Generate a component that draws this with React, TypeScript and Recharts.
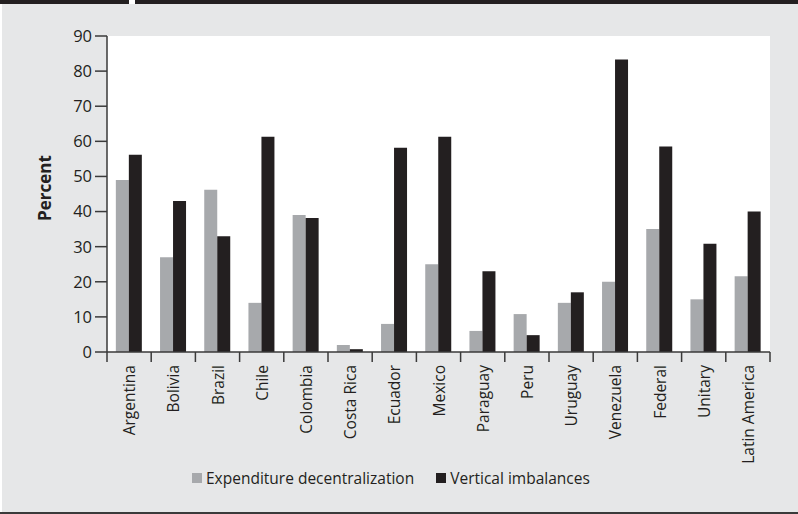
import React from "react";
import {
  BarChart,
  Bar,
  XAxis,
  YAxis,
  CartesianGrid,
  Legend,
} from "recharts";

// categories and the two series
const countries = [
  "Argentina",
  "Bolivia",
  "Brazil",
  "Chile",
  "Colombia",
  "Costa Rica",
  "Ecuador",
  "Mexico",
  "Paraguay",
  "Peru",
  "Uruguay",
  "Venezuela",
  "Federal",
  "Unitary",
  "Latin America",
];

const expenditure = [49, 27, 46.2, 14, 39, 2, 8, 25, 6, 10.8, 14, 20, 35, 15, 21.6];
const imbalances = [56.2, 43, 33, 61.3, 38.2, 0.8, 58.2, 61.3, 23, 4.8, 17, 83.3, 58.5, 30.8, 40];

const yTicks = [0, 10, 20, 30, 40, 50, 60, 70, 80, 90];

const SERIES_NAMES = {
  exp: "Expenditure decentralization",
  vert: "Vertical imbalances",
};

const GRAY = "#a7a9ac";
const BLACK = "#231f20";
const PANEL = "#e6e7e8";
const INK = "#231f20";
const FONT = "'Open Sans', 'DejaVu Sans', sans-serif";

const data = countries.map((name, i) => ({
  name,
  exp: expenditure[i],
  vert: imbalances[i],
}));

// category label rotated, plus tick marks on the band edges
const CountryTick = (props: any) => {
  const { x, y, payload, index, visibleTicksCount } = props;
  const half = payload.offset || 0;
  const last = index === visibleTicksCount - 1;
  return (
    <g>
      <line x1={x - half} x2={x - half} y1={y} y2={y + 10} stroke="#3a3a3a" strokeWidth={1.5} />
      {last && (
        <line x1={x + half} x2={x + half} y1={y} y2={y + 10} stroke="#3a3a3a" strokeWidth={1.5} />
      )}
      <text
        x={x}
        y={y + 13}
        transform={`rotate(-90, ${x}, ${y + 13})`}
        textAnchor="end"
        dominantBaseline="central"
        fill={INK}
        fontSize={15.5}
        fontFamily={FONT}
      >
        {payload.value}
      </text>
    </g>
  );
};

const PercentLabel = (props: any) => {
  const { viewBox } = props;
  const x = viewBox.x + 4;
  const y = viewBox.y + viewBox.height / 2 - 6;
  return (
    <text
      x={x}
      y={y}
      transform={`rotate(-90, ${x}, ${y})`}
      textAnchor="middle"
      fill={INK}
      fontSize={17}
      fontWeight="bold"
      fontFamily={FONT}
    >
      Percent
    </text>
  );
};

const LegendContent = (props: any) => {
  const { payload } = props;
  return (
    <div style={{ display: "flex", alignItems: "center", fontFamily: FONT, fontSize: 15.5, color: INK }}>
      {payload.map((entry: any, i: number) => (
        <div key={i} style={{ display: "flex", alignItems: "center", marginRight: 22 }}>
          <span style={{ width: 10, height: 10, background: entry.color, marginRight: 4, display: "inline-block" }} />
          <span>{entry.value}</span>
        </div>
      ))}
    </div>
  );
};

export default function App() {
  return (
    <div style={{ position: "absolute", left: 0, top: 0, width: 798, height: 514, background: "#fff", overflow: "hidden" }}>
      <div style={{ position: "absolute", left: 2, top: 4, width: 796, height: 508, background: PANEL }} />
      <div style={{ position: "absolute", left: 0, top: 0, width: 129, height: 4, background: BLACK }} />
      <div style={{ position: "absolute", left: 135, top: 0, width: 663, height: 4, background: BLACK }} />
      <div style={{ position: "absolute", left: 0, top: 512, width: 798, height: 2, background: "#3a3a3a" }} />
      <div style={{ position: "absolute", left: 0, top: 0 }}>
        <BarChart
          width={798}
          height={514}
          data={data}
          margin={{ top: 36, right: 28, left: 47, bottom: 62 }}
          barCategoryGap="20%"
          barGap={0}
        >
          <CartesianGrid horizontal={false} vertical={false} fill="#ffffff" />
          <XAxis
            dataKey="name"
            interval={0}
            height={100}
            tickLine={false}
            tickSize={0}
            tickMargin={0}
            axisLine={{ stroke: "#3a3a3a", strokeWidth: 1.5 }}
            tick={<CountryTick />}
          />
          <YAxis
            width={60}
            domain={[0, 90]}
            ticks={yTicks}
            interval={0}
            tickSize={12}
            tickMargin={3}
            axisLine={{ stroke: "#3a3a3a", strokeWidth: 1.5 }}
            tickLine={{ stroke: "#3a3a3a", strokeWidth: 1.5 }}
            tick={{ fill: INK, fontSize: 16.5, fontFamily: FONT }}
            label={<PercentLabel />}
          />
          <Legend
            layout="horizontal"
            verticalAlign="middle"
            align="center"
            content={<LegendContent />}
            wrapperStyle={{ left: 192, top: 467, width: 460 }}
          />
          <Bar dataKey="exp" name={SERIES_NAMES.exp} fill={GRAY} isAnimationActive={false} />
          <Bar dataKey="vert" name={SERIES_NAMES.vert} fill={BLACK} isAnimationActive={false} />
        </BarChart>
      </div>
    </div>
  );
}
